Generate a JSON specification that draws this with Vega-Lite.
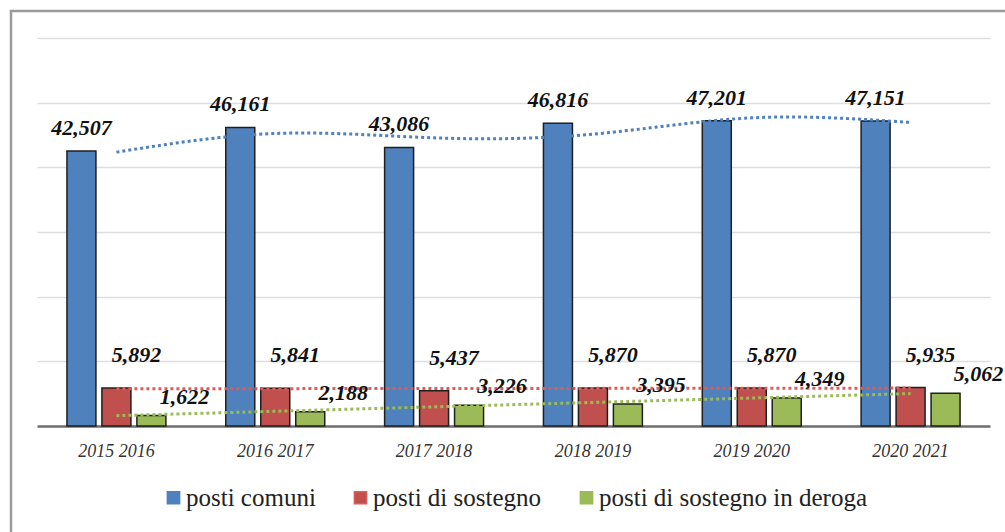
{
  "$schema": "https://vega.github.io/schema/vega-lite/v6.json",
  "width": 1004,
  "height": 530,
  "autosize": {"type": "none"},
  "padding": {"left": 11, "top": 11, "right": 0, "bottom": 0},
  "background": "white",
  "config": {
    "view": {"stroke": "#9a9a9a", "strokeWidth": 2.5},
    "font": "'Liberation Serif', 'Times New Roman', serif"
  },
  "datasets": {
    "bars": [
      {"period": "2015 2016", "series": "posti comuni", "value": 42507},
      {"period": "2015 2016", "series": "posti di sostegno", "value": 5892},
      {"period": "2015 2016", "series": "posti di sostegno in deroga", "value": 1622},
      {"period": "2016 2017", "series": "posti comuni", "value": 46161},
      {"period": "2016 2017", "series": "posti di sostegno", "value": 5841},
      {"period": "2016 2017", "series": "posti di sostegno in deroga", "value": 2188},
      {"period": "2017 2018", "series": "posti comuni", "value": 43086},
      {"period": "2017 2018", "series": "posti di sostegno", "value": 5437},
      {"period": "2017 2018", "series": "posti di sostegno in deroga", "value": 3226},
      {"period": "2018 2019", "series": "posti comuni", "value": 46816},
      {"period": "2018 2019", "series": "posti di sostegno", "value": 5870},
      {"period": "2018 2019", "series": "posti di sostegno in deroga", "value": 3395},
      {"period": "2019 2020", "series": "posti comuni", "value": 47201},
      {"period": "2019 2020", "series": "posti di sostegno", "value": 5870},
      {"period": "2019 2020", "series": "posti di sostegno in deroga", "value": 4349},
      {"period": "2020 2021", "series": "posti comuni", "value": 47151},
      {"period": "2020 2021", "series": "posti di sostegno", "value": 5935},
      {"period": "2020 2021", "series": "posti di sostegno in deroga", "value": 5062}
    ],
    "trend": [
      {"period": "2015 2016", "series": "posti comuni", "value": 42350},
      {"period": "2016 2017", "series": "posti comuni", "value": 45240},
      {"period": "2017 2018", "series": "posti comuni", "value": 44560},
      {"period": "2018 2019", "series": "posti comuni", "value": 45130},
      {"period": "2019 2020", "series": "posti comuni", "value": 47650},
      {"period": "2020 2021", "series": "posti comuni", "value": 46940},
      {"period": "2015 2016", "series": "posti di sostegno", "value": 5755},
      {"period": "2020 2021", "series": "posti di sostegno", "value": 5860},
      {"period": "2015 2016", "series": "posti di sostegno in deroga", "value": 1603},
      {"period": "2020 2021", "series": "posti di sostegno in deroga", "value": 5011}
    ]
  },
  "encoding": {
    "x": {
      "field": "period",
      "type": "nominal",
      "sort": null,
      "scale": {
        "domain": ["2015 2016", "2016 2017", "2017 2018", "2018 2019", "2019 2020", "2020 2021"],
        "range": [26, 979],
        "paddingInner": 0.377,
        "paddingOuter": 0.1885
      },
      "axis": {
        "title": null,
        "orient": "bottom",
        "offset": -115,
        "domainColor": "#6e6e6e",
        "domainWidth": 2.5,
        "ticks": false,
        "grid": false,
        "labelAngle": 0,
        "labelFont": "'Liberation Serif', 'Times New Roman', serif",
        "labelFontStyle": "italic",
        "labelFontSize": 18,
        "labelColor": "#333333",
        "labelPadding": 16
      }
    },
    "y": {
      "field": "value",
      "type": "quantitative",
      "scale": {"domain": [0, 60000], "range": [415, 27], "nice": false, "zero": true},
      "axis": {
        "title": null,
        "labels": false,
        "ticks": false,
        "domain": false,
        "grid": true,
        "gridColor": "#dedede",
        "gridWidth": 1.5,
        "values": [10000, 20000, 30000, 40000, 50000, 60000]
      }
    }
  },
  "layer": [
    {
      "data": {"name": "bars"},
      "mark": {"type": "bar", "stroke": "#1f1f1f", "strokeWidth": 1.5},
      "encoding": {
        "xOffset": {
          "field": "series",
          "type": "nominal",
          "scale": {
            "domain": ["posti comuni", "posti di sostegno", "posti di sostegno in deroga"],
            "paddingInner": 0.171,
            "paddingOuter": 0
          }
        },
        "color": {
          "field": "series",
          "type": "nominal",
          "scale": {
            "domain": ["posti comuni", "posti di sostegno", "posti di sostegno in deroga"],
            "range": ["#4f81bd", "#c0504d", "#9bbb59"]
          },
          "legend": {
            "title": null,
            "orient": "none",
            "legendX": 150,
            "legendY": 474,
            "direction": "horizontal",
            "symbolType": "square",
            "symbolSize": 150,
            "symbolStrokeColor": "#222222",
            "symbolStrokeWidth": 1.5,
            "labelFont": "'Liberation Serif', 'Times New Roman', serif",
            "labelFontSize": 25,
            "labelColor": "#222222",
            "labelOffset": 0,
            "columnPadding": 32,
            "padding": 0,
            "labelLimit": 400
          }
        }
      }
    },
    {
      "data": {"name": "trend"},
      "mark": {"type": "line", "strokeDash": [3, 3], "strokeWidth": 3, "interpolate": "natural"},
      "encoding": {
        "stroke": {
          "field": "series",
          "type": "nominal",
          "scale": {
            "domain": ["posti comuni", "posti di sostegno", "posti di sostegno in deroga"],
            "range": ["#4f81bd", "#e05a57", "#9bbb59"]
          },
          "legend": null
        }
      }
    },
    {
      "data": {"name": "bars"},
      "transform": [{"filter": "datum.series === 'posti comuni'"}],
      "mark": {"type": "text", "font": "'Liberation Serif', 'Times New Roman', serif", "fontStyle": "italic", "fontWeight": "bold", "fontSize": 22, "baseline": "middle", "dx": 0, "dy": -23, "color": "#111111"},
      "encoding": {
        "xOffset": {"field": "series", "type": "nominal"},
        "text": {"field": "value", "type": "quantitative", "format": ",d"}
      }
    },
    {
      "data": {"name": "bars"},
      "transform": [{"filter": "datum.series === 'posti di sostegno'"}],
      "mark": {"type": "text", "font": "'Liberation Serif', 'Times New Roman', serif", "fontStyle": "italic", "fontWeight": "bold", "fontSize": 22, "baseline": "middle", "dx": 20, "dy": -33, "color": "#111111"},
      "encoding": {
        "xOffset": {"field": "series", "type": "nominal"},
        "text": {"field": "value", "type": "quantitative", "format": ",d"}
      }
    },
    {
      "data": {"name": "bars"},
      "transform": [{"filter": "datum.series === 'posti di sostegno in deroga'"}],
      "mark": {"type": "text", "font": "'Liberation Serif', 'Times New Roman', serif", "fontStyle": "italic", "fontWeight": "bold", "fontSize": 22, "baseline": "middle", "dx": 33, "dy": -19, "color": "#111111"},
      "encoding": {
        "xOffset": {"field": "series", "type": "nominal"},
        "text": {"field": "value", "type": "quantitative", "format": ",d"}
      }
    }
  ]
}
